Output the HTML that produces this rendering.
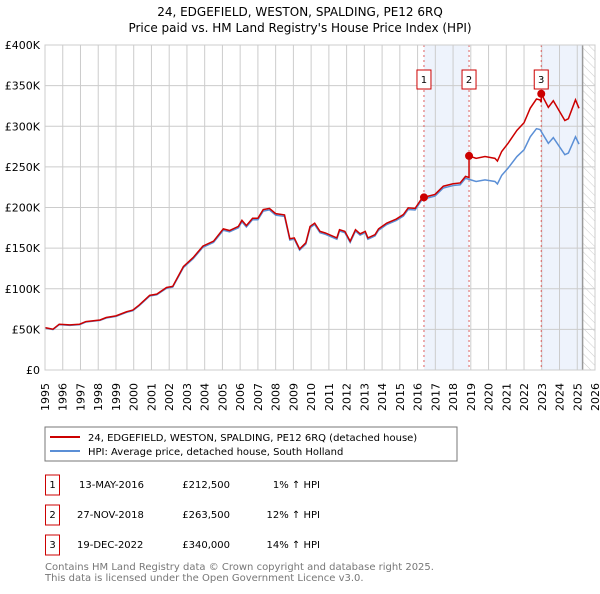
<!DOCTYPE html>
<html><head><meta charset="utf-8"><style>
body{margin:0;background:#fff;font-family:"DejaVu Sans","Liberation Sans",sans-serif;}
</style></head><body>
<svg id="c" width="600" height="590" xmlns="http://www.w3.org/2000/svg" font-family="DejaVu Sans, Liberation Sans, sans-serif">
<text x="300" y="16" text-anchor="middle" font-size="12" fill="#000">24, EDGEFIELD, WESTON, SPALDING, PE12 6RQ</text>
<text x="300" y="32" text-anchor="middle" font-size="12" fill="#000">Price paid vs. HM Land Registry's House Price Index (HPI)</text>
<defs><pattern id="hatch" width="6" height="6" patternUnits="userSpaceOnUse" patternTransform="rotate(-45)"><line x1="0" y1="0" x2="0" y2="6" stroke="#ccc" stroke-width="1"/></pattern></defs>
<g id="plot"></g>
<rect x="45" y="427" width="412" height="34" fill="#fff" stroke="#777"/>
<line x1="50" y1="437" x2="80" y2="437" stroke="#cc0000" stroke-width="2"/>
<text x="88" y="441" font-size="10">24, EDGEFIELD, WESTON, SPALDING, PE12 6RQ (detached house)</text>
<line x1="50" y1="451" x2="80" y2="451" stroke="#5b8fd6" stroke-width="2"/>
<text x="88" y="455" font-size="10">HPI: Average price, detached house, South Holland</text>
<g font-size="10" fill="#000">
<rect x="45.5" y="475" width="14" height="20" fill="#fff" stroke="#cc0000"/><text x="52.5" y="488" text-anchor="middle">1</text>
<text x="79" y="488">13-MAY-2016</text><text x="230" y="488" text-anchor="end">£212,500</text><text x="320" y="488" text-anchor="end">1% ↑ HPI</text>
<rect x="45.5" y="505" width="14" height="20" fill="#fff" stroke="#cc0000"/><text x="52.5" y="518" text-anchor="middle">2</text>
<text x="77" y="518">27-NOV-2018</text><text x="230" y="518" text-anchor="end">£263,500</text><text x="320" y="518" text-anchor="end">12% ↑ HPI</text>
<rect x="45.5" y="535" width="14" height="20" fill="#fff" stroke="#cc0000"/><text x="52.5" y="548" text-anchor="middle">3</text>
<text x="77" y="548">19-DEC-2022</text><text x="230" y="548" text-anchor="end">£340,000</text><text x="320" y="548" text-anchor="end">14% ↑ HPI</text>
</g>
<text x="45" y="570" font-size="10" fill="#777">Contains HM Land Registry data © Crown copyright and database right 2025.</text>
<text x="45" y="581" font-size="10" fill="#777">This data is licensed under the Open Government Licence v3.0.</text>
</svg>
<script>
const hpiYears=[1995,1995.45,1995.8,1996.4,1996.95,1997.3,1998.1,1998.45,1999,1999.6,1999.95,2000.3,2000.9,2001.3,2001.85,2002.2,2002.8,2003.35,2003.9,2004.5,2005.05,2005.4,2005.9,2006.1,2006.35,2006.7,2007,2007.3,2007.65,2008,2008.5,2008.8,2009.05,2009.35,2009.7,2009.94,2010.2,2010.5,2010.8,2011.45,2011.6,2011.9,2012.2,2012.5,2012.76,2013.05,2013.2,2013.6,2013.8,2014.26,2014.8,2015.2,2015.47,2015.86,2016.2,2016.37,2016.98,2017.45,2018,2018.4,2018.7,2019,2019.3,2019.8,2020.36,2020.5,2020.74,2021.1,2021.6,2022,2022.35,2022.7,2022.9,2023.37,2023.65,2024.3,2024.5,2024.9,2025.1];
const hpiValues=[51.7,49.7,55.8,55,55.8,59,61,64,66,71,73,79,91,92.5,100.6,102,126,137,151,157,172,170,175,182.5,176,185,185,195.5,197,190.6,189,160,161,147.5,155,175,179,169,167,161,171,169,157,171,166,169,161,165,172,179,184,189.5,197.6,197,208,210.6,214,224,227,228,236,234,232,234,232,229,239.5,248.5,262.7,271,287,297,296,279,286,265,267,287,278];
const saleYears=[2016.36,2018.9,2022.97];
const salePrices=[212500,263500,340000];
const saleLabels=["1","2","3"];
const yTicks=[0,50000,100000,150000,200000,250000,300000,350000,400000];
const yTickLabels=["£0","£50K","£100K","£150K","£200K","£250K","£300K","£350K","£400K"];
const xTicks=[1995,1996,1997,1998,1999,2000,2001,2002,2003,2004,2005,2006,2007,2008,2009,2010,2011,2012,2013,2014,2015,2016,2017,2018,2019,2020,2021,2022,2023,2024,2025,2026];

const X0=45,X1=595,Y0=370,Y1=45;
const xs=y=>X0+(y-1995)/(2026-1995)*(X1-X0);
const ys=v=>Y0-v/400000*(Y0-Y1);
const NS="http://www.w3.org/2000/svg";
const g=document.getElementById('plot');
function mk(t,a){const e=document.createElementNS(NS,t);for(const k in a)e.setAttribute(k,a[k]);g.appendChild(e);return e;}
function hpiAt(t){for(let i=1;i<hpiYears.length;i++){if(t<=hpiYears[i]){const f=(t-hpiYears[i-1])/(hpiYears[i]-hpiYears[i-1]);return (hpiValues[i-1]+f*(hpiValues[i]-hpiValues[i-1]))*1000;}}return hpiValues[hpiValues.length-1]*1000;}
const sh1=mk('rect',{x:xs(saleYears[0]),y:Y1,width:xs(saleYears[1])-xs(saleYears[0]),height:Y0-Y1,fill:'#eef3fc'});


const sh2=mk('rect',{x:xs(saleYears[2]),y:Y1,width:xs(2025.3)-xs(saleYears[2]),height:Y0-Y1,fill:'#eef3fc'});


const ht=mk('rect',{x:xs(2025.3),y:Y1,width:X1-xs(2025.3),height:Y0-Y1,fill:'url(#hatch)'});


yTicks.forEach((v,i)=>{
 const l=mk('line',{x1:X0,x2:X1,y1:ys(v),y2:ys(v),stroke:'#ccc','stroke-width':1});
 
 
 const t=mk('text',{x:X0-5,y:ys(v)+4,'text-anchor':'end','font-size':11});
 t.textContent=yTickLabels[i];
 
 
});
xTicks.forEach(y=>{
 const l=mk('line',{x1:xs(y),x2:xs(y),y1:Y1,y2:Y0,stroke:'#ccc','stroke-width':1});
 
 
 const px=xs(y)+4, py=Y0+13;
 const t=mk('text',{x:px,y:py,'text-anchor':'end','font-size':11,transform:'rotate(-90 '+px+' '+py+')'});
 t.textContent=y;
 
 
});
const nl=mk('line',{x1:xs(2025.3),x2:xs(2025.3),y1:Y1,y2:Y0,stroke:'#999','stroke-width':1.5});


saleYears.forEach((s,i)=>{
 const l=mk('line',{x1:xs(s),x2:xs(s),y1:Y1,y2:Y0,stroke:'#e06060','stroke-width':1,'stroke-dasharray':'2,3'});
 
 
});
const hp=mk('polyline',{points:hpiYears.map((y,i)=>xs(y)+','+ys(hpiValues[i]*1000)).join(' '),fill:'none',stroke:'#5b8fd6','stroke-width':1.5});


const pts=[];
const addSeg=(t,idx)=>{const r=salePrices[idx]/hpiAt(saleYears[idx]);pts.push(xs(t)+','+ys(hpiAt(t)*r));};
const allT=hpiYears.slice();
saleYears.forEach(s=>{allT.push(s);allT.push(s+0.0001);});
allT.sort((a,b)=>a-b);
allT.forEach(t=>{let idx=0;for(let k=0;k<saleYears.length;k++)if(t>saleYears[k])idx=k;if(t<=saleYears[0])idx=0;addSeg(t,idx);});
const pl=mk('polyline',{points:pts.join(' '),fill:'none',stroke:'#cc0000','stroke-width':1.5});


saleYears.forEach((s,i)=>{
 const c=mk('circle',{cx:xs(s),cy:ys(salePrices[i]),r:4,fill:'#cc0000'});
 
 
 const b=mk('rect',{x:xs(s)-7,y:70,width:14,height:19,fill:'#fff',stroke:'#cc0000'});
 
 
 const t=mk('text',{x:xs(s),y:83,'text-anchor':'middle','font-size':10});
 t.textContent=saleLabels[i];
 
 
});
const fr=mk('rect',{x:X0,y:Y1,width:X1-X0,height:Y0-Y1,fill:'none',stroke:'#ccc'});


</script>
</body></html>
